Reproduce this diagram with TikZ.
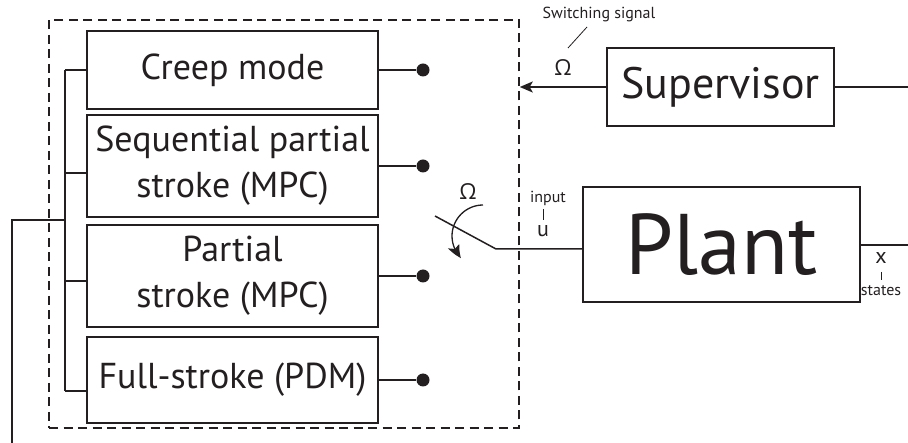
\documentclass[tikz,border=0pt]{standalone}
\usepackage{fontspec}
\setmainfont{PT Sans}
\newfontfamily\omegafont{Open Sans}
\usetikzlibrary{arrows.meta,bending,calc}
\definecolor{ink}{RGB}{35,31,32}
\begin{document}
\begin{tikzpicture}[x=1pt,y=-1pt,color=ink,line width=1.5pt,
  every node/.style={inner sep=0pt},
  modebox/.style={draw,minimum width=291pt,align=center,font=\fontsize{36}{46}\selectfont},
  contact/.style={circle,fill,minimum size=13pt},
  smalllabel/.style={font=\fontsize{16}{18}\selectfont},
  siglabel/.style={font=\fontsize{22}{24}\selectfont},
  tip/.style={-{Stealth[length=13pt,width=11pt,inset=3pt]}}]
\useasboundingbox (0,0) rectangle (908,443);

% controller modes inside the dashed switching block
\node[draw,dashed,dash pattern=on 9pt off 5.5pt,minimum width=470pt,minimum height=408pt] (block) at (284,224) {};
\node[modebox,minimum height=78pt] (creep) at (232.5,70) {Creep mode};
\node[modebox,minimum height=102pt] (seq) at (232.5,166) {Sequential partial\\stroke (MPC)};
\node[modebox,minimum height=102pt] (part) at (232.5,276) {Partial\\stroke (MPC)};
\node[modebox,minimum height=86pt] (full) at (232.5,380) {Full-stroke (PDM)};

% switch contacts
\node[contact] (d1) at (423,70) {};
\node[contact] (d2) at (423,166) {};
\node[contact] (d3) at (423,276) {};
\node[contact] (d4) at (423,380) {};
\draw (creep.east) -- (d1);
\draw (seq.east) -- (d2);
\draw (part.east) -- (d3);
\draw (full.east) -- (d4);

% state bus feeding the modes
\coordinate (b1) at (65,70);
\coordinate (b2) at (65,173);
\coordinate (b3) at (65,281);
\coordinate (b4) at (65,391);
\coordinate (bfeed) at (65,220);
\coordinate (fbcorner) at (12,220);
\coordinate (fbend) at (12,443);
\draw (b1) -- (b4);
\draw (b1) -- (creep.west);
\draw (b2) -- (b2 -| seq.west);
\draw (b3) -- (b3 -| part.west);
\draw (b4) -- (b4 -| full.west);
\draw (bfeed) -- (fbcorner) -- (fbend);

% supervisor
\node[draw,minimum width=227pt,minimum height=78pt,font=\fontsize{44}{46}\selectfont] (sup) at (720.5,87) {Supervisor};
\coordinate (supout) at (908,87);
\draw (sup.east) -- (supout);
\draw[tip] (sup.west) -- (sup.west -| block.east);
\node[siglabel] (om1) at (563,68) {\omegafont Ω};
\node[font=\fontsize{16}{18}\selectfont] (swsig) at (599,15) {Switching signal};
\draw[line width=0.8pt] (587,27) -- (568,48);

% plant
\node[draw,minimum width=277pt,minimum height=115pt,font=\fontsize{86}{90}\selectfont] (plant) at (721.5,244.5) {Plant};
\coordinate (plout) at (908,245);
\draw (plant.east |- plout) -- (plout);

% switch blade
\coordinate (pivot) at (496,249);
\coordinate (blade) at (435,216);
\draw (blade) -- (pivot) -- (pivot -| plant.west);
\node[siglabel] (om2) at (468,192) {\omegafont Ω};
\draw[-{Stealth[length=14pt,width=12pt,inset=3pt,bend]},line width=1.3pt] (483,205) .. controls (466,205) and (452,219) .. (452,236)
  .. controls (452,244.2) and (455.3,252.1) .. (461,258);

% signal labels
\node[smalllabel] (inp) at (548,198) {input};
\draw[line width=0.8pt] (543,209) -- (543,220);
\node[siglabel] (u) at (543,231) {u};
\node[siglabel] (x) at (881,258) {x};
\draw[line width=0.8pt] (881,272) -- (881,280);
\node[smalllabel] (st) at (881,291) {states};
\end{tikzpicture}
\end{document}
